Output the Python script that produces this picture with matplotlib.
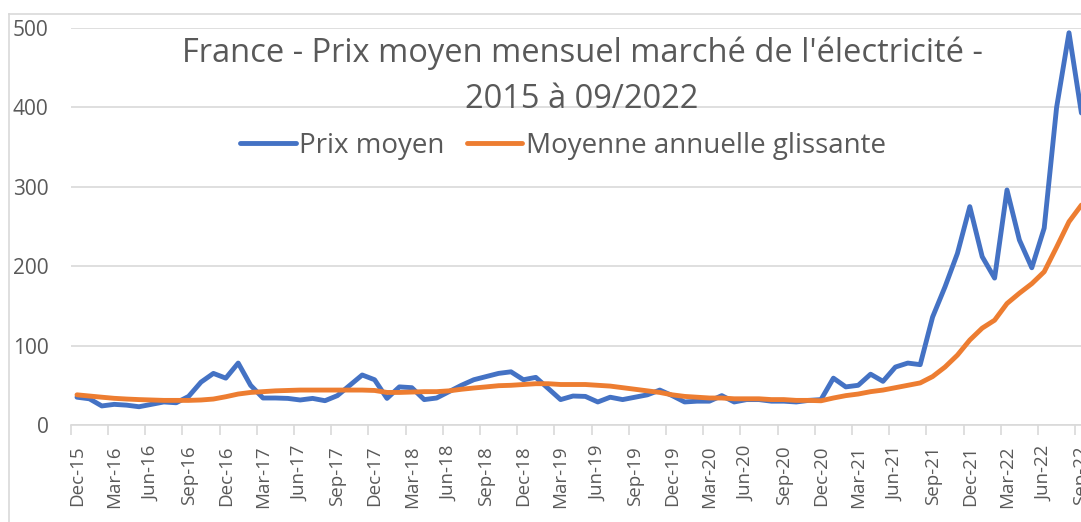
import matplotlib
matplotlib.use("Agg")
import matplotlib.pyplot as plt
from matplotlib.lines import Line2D
from matplotlib.ticker import FixedLocator, NullFormatter

# ---------------- data ----------------
title_line1 = "France - Prix moyen mensuel marché de l'électricité -"
title_line2 = "2015 à 09/2022"
series_names = ["Prix moyen", "Moyenne annuelle glissante"]

# monthly, Dec-15 ... Sep-22 (82 months)
prix_moyen = [
    35, 33, 24, 26, 25, 23, 26, 29, 28, 36, 54, 65, 59, 78, 50, 34, 34, 33.5, 31.5, 33.5, 30.6, 37,
    50, 63, 57, 33.5, 48, 47, 32, 34, 42, 50, 57, 61, 65, 67, 57, 60, 46, 32, 36.5, 36, 29,
    35, 32, 35, 38, 44, 37, 29, 30, 30, 37, 29, 32, 32, 30, 30, 29, 31, 32, 59, 48, 50, 64, 55,
    73, 78, 76, 136, 174, 216, 275, 212, 185, 296, 233, 198, 248, 400, 494, 393,
]
moyenne_glissante = [
    38, 36.5, 35, 33.6, 32.7, 32, 31.5, 31, 31, 31, 31.5, 32.7, 35.6, 39, 41, 42, 43, 43.5, 44, 44, 44, 44,
    44, 44, 43.5, 41, 41, 41.5, 42, 42, 43, 45, 46.6, 48, 49.5, 50, 51, 52, 52, 51, 51, 51, 50,
    49, 47, 45, 43, 41, 38, 36, 35, 34, 34, 33, 33, 33, 32, 32, 31, 31, 30.5, 34, 37, 39, 42, 44,
    47, 50, 53, 61, 73, 88, 107, 122, 132, 153, 166, 178, 193, 224, 256, 277,
]
tick_labels = ["Dec-15", "Mar-16", "Jun-16", "Sep-16", "Dec-16", "Mar-17", "Jun-17", "Sep-17",
               "Dec-17", "Mar-18", "Jun-18", "Sep-18", "Dec-18", "Mar-19", "Jun-19", "Sep-19",
               "Dec-19", "Mar-20", "Jun-20", "Sep-20", "Dec-20", "Mar-21", "Jun-21", "Sep-21",
               "Dec-21", "Mar-22", "Jun-22", "Sep-22"]
y_ticks = [0, 100, 200, 300, 400, 500]

# ---------------- style ----------------
W, H = 1081, 522
BLUE = "#4472C4"
ORANGE = "#ED7D31"
TXT = "#595959"
GRID = "#D9D9D9"
FONT = ["Open Sans", "DejaVu Sans"]
plt.rcParams["font.family"] = FONT

fig = plt.figure(figsize=(W / 100, H / 100), dpi=100)
left_px, right_px = 70.8, 70.8 + 82 * 12.4
top_px, bot_px = 28, 425
ax = fig.add_axes([left_px / W, 1 - bot_px / H, (right_px - left_px) / W, (bot_px - top_px) / H])

x = list(range(len(prix_moyen)))
ax.plot(x, prix_moyen, color=BLUE, lw=3.5, solid_capstyle="round", solid_joinstyle="round",
        label=series_names[0], clip_on=False, zorder=3)
ax.plot(x, moyenne_glissante, color=ORANGE, lw=3.5, solid_capstyle="round", solid_joinstyle="round",
        label=series_names[1], clip_on=False, zorder=3)

ax.set_xlim(-0.5, len(prix_moyen) - 0.5)
ax.set_ylim(0, 500)

for s in ["top", "right", "left"]:
    ax.spines[s].set_visible(False)
ax.spines["bottom"].set_color(GRID)
ax.spines["bottom"].set_linewidth(1.2)

ax.set_yticks(y_ticks)
ax.set_yticklabels([str(v) for v in y_ticks])
ax.tick_params(axis="y", length=0, pad=16, labelsize=15, labelcolor=TXT)
ax.grid(axis="y", color=GRID, lw=1.2)
ax.set_axisbelow(True)

label_pos = [3 * i for i in range(len(tick_labels))]
ax.xaxis.set_major_locator(FixedLocator(label_pos))
ax.set_xticklabels(tick_labels, rotation=90, fontsize=13.5, color=TXT)
ax.xaxis.set_minor_locator(FixedLocator([p - 0.5 for p in label_pos]))
ax.xaxis.set_minor_formatter(NullFormatter())
ax.tick_params(axis="x", which="major", length=0, pad=15)
ax.tick_params(axis="x", which="minor", length=7, color=GRID, width=1.2)

# title (two lines)
fig.text(582 / W, 1 - 62 / H, title_line1, ha="center", va="baseline", fontsize=23.5, color=TXT)
fig.text(582 / W, 1 - 108 / H, title_line2, ha="center", va="baseline", fontsize=23.5, color=TXT)

# legend
handles = [Line2D([0], [0], color=BLUE, lw=3.5, solid_capstyle="round"),
           Line2D([0], [0], color=ORANGE, lw=3.5, solid_capstyle="round")]
leg = fig.legend(handles, series_names, loc="center", bbox_to_anchor=(563 / W, 1 - 146 / H),
                 ncol=2, frameon=False, fontsize=20, handlelength=2.0, handletextpad=0.12,
                 columnspacing=0.8, borderaxespad=0, borderpad=0)
for t in leg.get_texts():
    t.set_color(TXT)

# chart border (left and top edges visible in the crop)
fig.add_artist(Line2D([9 / W, 9 / W], [0, 1 - 14 / H], transform=fig.transFigure, color=GRID, lw=1.2))
fig.add_artist(Line2D([9 / W, 1], [1 - 14 / H, 1 - 14 / H], transform=fig.transFigure, color=GRID, lw=1.2))

fig.savefig("out.png", dpi=100)
